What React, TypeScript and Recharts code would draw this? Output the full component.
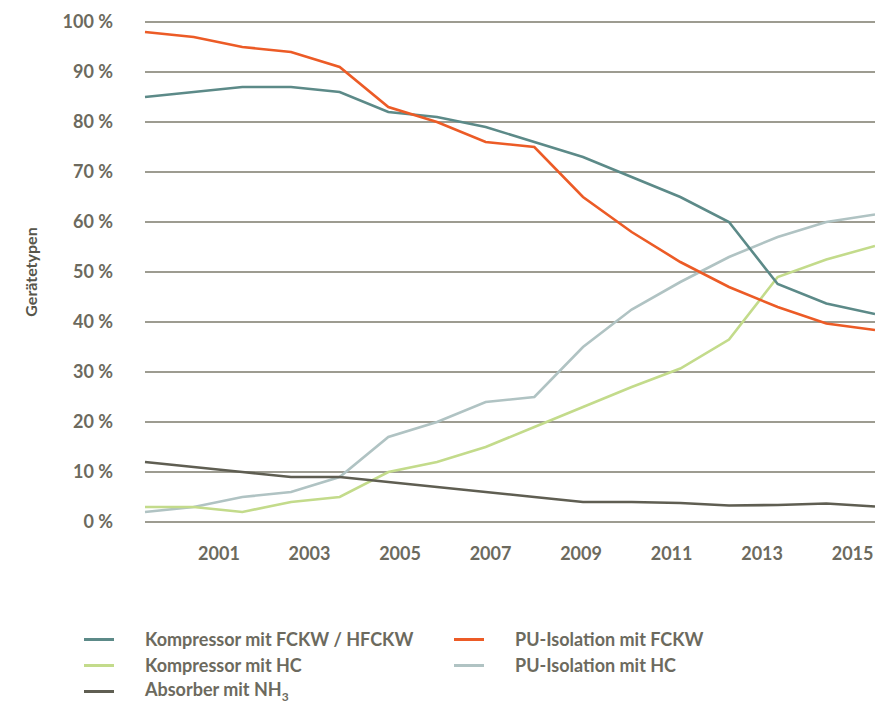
import React from "react";
import { LineChart, Line, XAxis, YAxis, CartesianGrid, Label } from "recharts";

// point index along the time axis
const pointIndex = [0, 1, 2, 3, 4, 5, 6, 7, 8, 9, 10, 11, 12, 13, 14, 15];
// year tick labels and where they sit on the point-index scale
const yearLabels = ["2001", "2003", "2005", "2007", "2009", "2011", "2013", "2015"];
const yearTickAt = [1.52, 3.38, 5.24, 7.1, 8.96, 10.82, 12.68, 14.54];
const percentTicks = [0, 10, 20, 30, 40, 50, 60, 70, 80, 90, 100];

const kompressorFCKW = [85, 86, 87, 87, 86, 82, 81, 79, 76, 73, 69, 65, 60, 47.6, 43.7, 41.6];
const puIsolationFCKW = [98, 97, 95, 94, 91, 83, 80, 76, 75, 65, 58, 52, 47, 43, 39.7, 38.4];
const kompressorHC = [3, 3, 2, 4, 5, 10, 12, 15, 19, 23, 27, 30.7, 36.5, 49, 52.5, 55.2];
const puIsolationHC = [2, 3, 5, 6, 9, 17, 20, 24, 25, 35, 42.5, 48, 53, 57, 60, 61.5];
const absorberNH3 = [12, 11, 10, 9, 9, 8, 7, 6, 5, 4, 4, 3.8, 3.3, 3.4, 3.7, 3.1];

const seriesKeys = ["kFCKW", "puFCKW", "kHC", "puHC", "abs"];
const seriesNames = [
  "Kompressor mit FCKW / HFCKW",
  "PU-Isolation mit FCKW",
  "Kompressor mit HC",
  "PU-Isolation mit HC",
  "Absorber mit NH",
];
const seriesColors = ["#5c8a88", "#ec5b26", "#c3db8b", "#b0c3c3", "#5f5e52"];

const data = pointIndex.map((i, k) => ({
  i,
  kFCKW: kompressorFCKW[k],
  puFCKW: puIsolationFCKW[k],
  kHC: kompressorHC[k],
  puHC: puIsolationHC[k],
  abs: absorberNH3[k],
}));

const FONT = "Lato, 'Open Sans', sans-serif";
const TEXT = "#6c6a5e";

const legendPos = [
  { left: 84, top: 639 },
  { left: 454, top: 639 },
  { left: 84, top: 665 },
  { left: 454, top: 665 },
  { left: 84, top: 691 },
];

const drawOrder = [3, 2, 0, 1, 4];

export default function App() {
  return (
    <div style={{ position: "absolute", left: 0, top: 0, width: 875, height: 703, background: "#fff" }}>
      <LineChart width={875} height={703} data={data} margin={{ top: 22, right: 0, left: 0, bottom: 131 }}>
        <CartesianGrid horizontal vertical={false} stroke="#7d7b6c" strokeWidth={1.3} />
        <XAxis
          dataKey="i"
          type="number"
          domain={[0, 15]}
          ticks={yearTickAt}
          tickFormatter={(_v, idx) => yearLabels[idx]}
          axisLine={false}
          tickLine={false}
          tickSize={0}
          tickMargin={25}
          height={50}
          interval={0}
          tick={{ fill: TEXT, fontFamily: FONT, fontWeight: 700, fontSize: 18 }}
        />
        <YAxis
          type="number"
          domain={[0, 100]}
          ticks={percentTicks}
          width={145}
          axisLine={false}
          tickLine={false}
          tickSize={0}
          tickMargin={32}
          interval={0}
          tickFormatter={(v) => `${v} %`}
          tick={{ fill: TEXT, fontFamily: FONT, fontWeight: 700, fontSize: 18 }}
        >
          <Label
            value="Gerätetypen"
            angle={-90}
            position="insideLeft"
            offset={31}
            style={{ fill: "#57564b", fontFamily: FONT, fontWeight: 700, fontSize: 16, textAnchor: "middle" }}
          />
        </YAxis>
        {drawOrder.map((s) => (
          <Line
            key={seriesKeys[s]}
            type="linear"
            dataKey={seriesKeys[s]}
            name={seriesNames[s]}
            stroke={seriesColors[s]}
            strokeWidth={2.6}
            dot={false}
            isAnimationActive={false}
          />
        ))}
      </LineChart>
      {seriesNames.map((name, s) => (
        <div
          key={name}
          style={{
            position: "absolute",
            left: legendPos[s].left,
            top: legendPos[s].top - 12,
            height: 24,
            display: "flex",
            alignItems: "center",
            fontFamily: FONT,
            fontWeight: 700,
            fontSize: 18,
            color: TEXT,
            whiteSpace: "nowrap",
          }}
        >
          <span style={{ display: "inline-block", width: 30, height: 3, background: seriesColors[s], marginRight: 31 }} />
          <span>
            {name}
            {s === 4 ? <sub style={{ fontSize: 12 }}>3</sub> : null}
          </span>
        </div>
      ))}
    </div>
  );
}
